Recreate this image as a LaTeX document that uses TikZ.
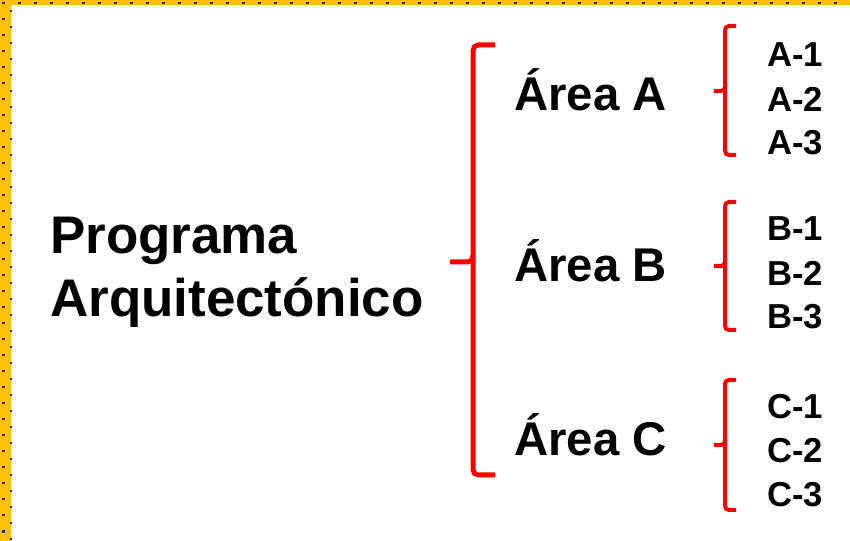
\documentclass[tikz,border=0pt]{standalone}
\usepackage{fontspec}
\setmainfont{Liberation Sans}
\usetikzlibrary{positioning}

\definecolor{gold}{HTML}{FFC000}
\definecolor{navy}{HTML}{1F2F6B}

\begin{document}
\begin{tikzpicture}[x=0.75pt, y=-0.75pt, node distance=33pt, on grid,
    title/.style={font=\fontsize{39.7}{47}\selectfont\bfseries, align=left, inner sep=0pt},
    area/.style={font=\fontsize{35.5}{40}\selectfont\bfseries, inner sep=0pt},
    item/.style={font=\fontsize{26}{30}\selectfont\bfseries, inner sep=0pt},
    bigbrace/.style={draw=red, line width=3.75pt, rounded corners=4pt},
    smallbrace/.style={draw=red, line width=3pt, rounded corners=3pt}]
	\useasboundingbox (0,0) rectangle (850,541);
	\fill[white] (0,0) rectangle (850,541);

	%borde punteado
	\fill[gold] (0,0) rectangle (850,5);
	\fill[gold] (0,0) rectangle (11,541);
	\foreach \i in {0,...,52}
		\fill[navy] (2+16*\i,2) rectangle +(2.5,2.5);
	\foreach \i in {1,...,33}
		\fill[navy] (2,2+16*\i) rectangle +(2.5,2.5);
	\foreach \i in {0,...,33}
		\fill[navy] (10,10+16*\i) rectangle +(1.5,2);

	%textos
	\node[title, anchor=west]				(prog) at (50,272)		{Programa\\Arquitectónico};
	\node[area, anchor=base west]			(areaA) at (514,111)	{Área A};
	\node[area, anchor=base west]			(areaB) at (514,282)	{Área B};
	\node[area, anchor=base west]			(areaC) at (514,456)	{Área C};

	\node[item, anchor=base west]			(a1) at (767,67)		{A-1};
	\node[item]								(a2) [below=of a1]		{A-2};
	\node[item]								(a3) [below=of a2]		{A-3};
	\node[item, anchor=base west]			(b1) at (767,241)		{B-1};
	\node[item]								(b2) [below=of b1]		{B-2};
	\node[item]								(b3) [below=of b2]		{B-3};
	\node[item, anchor=base west]			(c1) at (767,419)		{C-1};
	\node[item]								(c2) [below=of c1]		{C-2};
	\node[item]								(c3) [below=of c2]		{C-3};

	%llaves
	\draw[bigbrace] (495,45) -- (473,45) -- (473,262) -- (450,262);
	\draw[bigbrace] (473,255) -- (473,475) -- (495,475);
	\draw[smallbrace] (736,26) -- (725,26) -- (725,91) -- (714,91);
	\draw[smallbrace] (725,85) -- (725,155) -- (736,155);
	\draw[smallbrace] (736,202) -- (725,202) -- (725,266) -- (714,266);
	\draw[smallbrace] (725,260) -- (725,330) -- (736,330);
	\draw[smallbrace] (736,380) -- (725,380) -- (725,445) -- (714,445);
	\draw[smallbrace] (725,439) -- (725,510) -- (736,510);
\end{tikzpicture}
\end{document}
